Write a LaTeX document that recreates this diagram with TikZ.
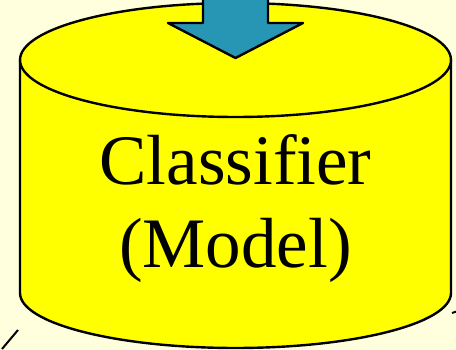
\documentclass[tikz,border=0pt]{standalone}
\usepackage{fontspec}
\setmainfont{Liberation Serif}
\usepackage{tikz}
\definecolor{paper}{RGB}{255,255,222}
\definecolor{drum}{RGB}{255,255,0}
\definecolor{arrowblue}{RGB}{38,150,180}
\tikzset{
    outline/.style={draw=black, line width=2.4pt, line join=round},
    label/.style={font=\fontsize{71}{83}\selectfont, align=center}
}

\begin{document}
\begin{tikzpicture}[x=1pt, y=1pt]

% Background
\fill[paper] (0,0) rectangle (456,350);
\useasboundingbox (0,0) rectangle (456,350);
\clip (0,0) rectangle (456,350);

% Cylinder body
\draw[outline, fill=drum] (20,290) -- (20,57)
    arc[start angle=180, end angle=360, x radius=215.5pt, y radius=55pt]
    -- (451,290) -- cycle;

% Cylinder top
\draw[outline, fill=drum] (235.5,290) ellipse [x radius=215.5pt, y radius=57pt];

% Input arrow
\draw[outline, fill=arrowblue] (203,360)--(203,327)--(168,327)--(235.5,292)
    --(303,327)--(268,327)--(268,360)--cycle;

% Label
\node[label, anchor=base] (clf) at (235.5,82) {Classifier\\(Model)};

% Edge strokes
\draw[line width=2pt] (2,1)--(18,20);
\draw[line width=2pt] (452,37)--(458,39);

\end{tikzpicture}
\end{document}
